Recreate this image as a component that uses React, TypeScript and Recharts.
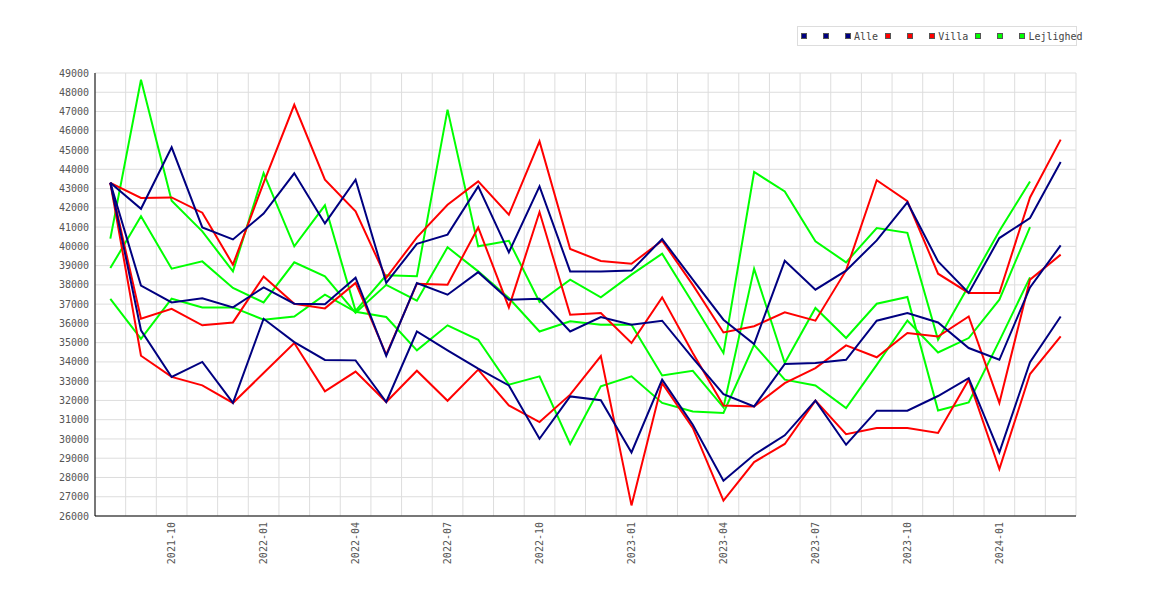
import { LineChart, Line, XAxis, YAxis, CartesianGrid, Legend } from "recharts";

const NAVY = "#000080";
const RED = "#ff0000";
const GREEN = "#00ff00";
const FONT = "'DejaVu Sans Mono', monospace";
const TEXT = "#555";
const GRID = "#dddddd";

// ── data (kr/m²) ─────────────────────────────────────────────────
const MONTHS = [
  "2021-08", "2021-09", "2021-10", "2021-11", "2021-12", "2022-01", "2022-02", "2022-03",
  "2022-04", "2022-05", "2022-06", "2022-07", "2022-08", "2022-09", "2022-10", "2022-11",
  "2022-12", "2023-01", "2023-02", "2023-03", "2023-04", "2023-05", "2023-06", "2023-07",
  "2023-08", "2023-09", "2023-10", "2023-11", "2023-12", "2024-01", "2024-02", "2024-03",
];
const MONTH_TICKS = [2, 5, 8, 11, 14, 17, 20, 23, 26, 29];
const Y_TICKS = [
  26000, 27000, 28000, 29000, 30000, 31000, 32000, 33000, 34000, 35000, 36000, 37000,
  38000, 39000, 40000, 41000, 42000, 43000, 44000, 45000, 46000, 47000, 48000, 49000,
];

const ALLE_HI = [
  43300, 41950, 45140, 40980, 40360, 41700, 43790, 41190, 43460, 38100, 40130, 40610,
  43110, 39690, 43110, 38700, 38700, 38740, 40380, 38270, 36190, 34930, 39250, 37750,
  38740, 40310, 42280, 39220, 37580, 40430, 41470, 44380,
];
const ALLE_MID = [
  43300, 37960, 37090, 37300, 36830, 37870, 37020, 36990, 38370, 34320, 38100, 37490,
  38660, 37230, 37280, 35580, 36330, 35930, 36140, 34200, 32330, 31690, 33890, 33940,
  34110, 36140, 36540, 36050, 34720, 34110, 37870, 40050,
];
const ALLE_LO = [
  43300, 35640, 33220, 34000, 31870, 36240, 35030, 34100, 34080, 31920, 35580, 34600,
  33650, 32780, 30010, 32210, 32010, 29300, 33080, 30740, 27830, 29180, 30190, 31990,
  29700, 31470, 31470, 32230, 33160, 29300, 33980, 36360,
];

const VILLA_HI = [
  43300, 42510, 42540, 41750, 39050, 43300, 47350, 43460, 41820, 38360, 40470, 42160,
  43370, 41640, 45450, 39860, 39240, 39100, 40290, 38000, 35530, 35850, 36580, 36140,
  38750, 43430, 42340, 38580, 37580, 37580, 42540, 45540,
];
const VILLA_MID = [
  43300, 36240, 36760, 35900, 36050, 38440, 37020, 36780, 38100, 34380, 38060, 38010,
  40980, 36830, 41780, 36450, 36540, 34980, 37350, 34460, 31740, 31690, 32900, 33680,
  34860, 34240, 35500, 35320, 36360, 31870, 38270, 39570,
];
const VILLA_LO = [
  43300, 34320, 33220, 32780, 31870, 33420, 34980, 32470, 33500, 31920, 33540, 31980,
  33600, 31740, 30880, 32300, 34300, 26550, 32900, 30570, 26800, 28800, 29740, 31990,
  30250, 30570, 30570, 30310, 33080, 28440, 33370, 35320,
];

// Lejlighed has no value for the last month
const LEJ_HI = [
  40400, 48650, 42370, 40780, 38700, 43800, 40000, 42130, 36650, 38500, 38450, 47100,
  40000, 40290, 37110, 38270, 37350, 38530, 39620, 37060, 34460, 43860, 42850, 40260,
  39170, 40950, 40700, 35150, 37960, 40800, 43370,
];
const LEJ_MID = [
  38870, 41560, 38840, 39220, 37840, 37090, 39170, 38440, 36550, 38000, 37180, 39950,
  38700, 37320, 35580, 36110, 35930, 35930, 33300, 33540, 31640, 38830, 33940, 36800,
  35240, 37020, 37370, 31480, 31900, 35090, 38390,
];
const LEJ_LO = [
  37270, 35200, 37280, 36830, 36830, 36190, 36360, 37490, 36600, 36330, 34600, 35900,
  35150, 32820, 33250, 29740, 32730, 33250, 31870, 31430, 31350, 34890, 33080, 32780,
  31600, 33850, 36150, 34490, 35240, 37230, 41000,
];

const data = MONTHS.map((month, i) => ({
  i,
  month,
  alleHi: ALLE_HI[i],
  alleMid: ALLE_MID[i],
  alleLo: ALLE_LO[i],
  villaHi: VILLA_HI[i],
  villaMid: VILLA_MID[i],
  villaLo: VILLA_LO[i],
  lejHi: LEJ_HI[i],
  lejMid: LEJ_MID[i],
  lejLo: LEJ_LO[i],
}));

// grid lines sit between the months, not on them
const GRID_TICKS = [...MONTHS.map((_, i) => i - 0.5), MONTHS.length - 0.5];
const X_DOMAIN = [-0.5, MONTHS.length - 0.5];

const LEGEND_ITEMS = [
  { color: NAVY, label: " " },
  { color: NAVY, label: " " },
  { color: NAVY, label: "Alle" },
  { color: RED, label: " " },
  { color: RED, label: " " },
  { color: RED, label: "Villa" },
  { color: GREEN, label: " " },
  { color: GREEN, label: " " },
  { color: GREEN, label: "Lejlighed" },
];

// drawn green first so navy ends up on top
const SERIES = [
  { key: "lejHi", color: GREEN },
  { key: "lejMid", color: GREEN },
  { key: "lejLo", color: GREEN },
  { key: "villaHi", color: RED },
  { key: "villaMid", color: RED },
  { key: "villaLo", color: RED },
  { key: "alleHi", color: NAVY },
  { key: "alleMid", color: NAVY },
  { key: "alleLo", color: NAVY },
];

function MonthTick({ x, y, payload }: any) {
  return (
    <text
      x={x}
      y={y}
      transform={`rotate(-90 ${x} ${y})`}
      textAnchor="end"
      dominantBaseline="central"
      fontSize={10}
      fontFamily={FONT}
      fill={TEXT}
    >
      {MONTHS[payload.value]}
    </text>
  );
}

function LegendBox() {
  return (
    <div
      style={{
        boxSizing: "border-box",
        width: 280,
        height: 20,
        border: `1px solid ${GRID}`,
        background: "#fff",
        display: "flex",
        alignItems: "center",
        paddingLeft: 3,
        fontFamily: FONT,
        fontSize: 10,
        color: "#444",
        whiteSpace: "pre",
      }}
    >
      {LEGEND_ITEMS.map((it, k) => (
        <span key={k} style={{ display: "flex", alignItems: "center", marginRight: 7 }}>
          <span
            style={{
              boxSizing: "border-box",
              width: 6,
              height: 6,
              background: it.color,
              border: "1px solid #555",
              marginRight: 3,
            }}
          />
          <span>{it.label}</span>
        </span>
      ))}
    </div>
  );
}

export default function App() {
  return (
    <LineChart
      width={1154}
      height={584}
      data={data}
      margin={{ top: 65, right: 86, bottom: 16, left: 27 }}
    >
      <CartesianGrid stroke={GRID} strokeWidth={1} verticalValues={GRID_TICKS} />
      <XAxis
        type="number"
        dataKey="i"
        domain={X_DOMAIN}
        ticks={MONTH_TICKS}
        interval={0}
        tick={<MonthTick />}
        tickLine={false}
        tickSize={4}
        tickMargin={2}
        axisLine={{ stroke: "#000" }}
        height={60}
      />
      <YAxis
        domain={[26000, 49000]}
        ticks={Y_TICKS}
        interval={0}
        allowDataOverflow
        width={60}
        tickLine={false}
        tickSize={4}
        tickMargin={2}
        axisLine={{ stroke: "#000" }}
        tick={{ fontSize: 10, fill: TEXT, fontFamily: FONT }}
      />
      {/* vertical + center + middle keeps the legend out of the plot offset */}
      <Legend
        layout="vertical"
        verticalAlign="middle"
        align="center"
        wrapperStyle={{ top: 18, left: 789, width: 280, height: 20 }}
        content={<LegendBox />}
      />
      {SERIES.map((s) => (
        <Line
          key={s.key}
          isAnimationActive={false}
          type="linear"
          dataKey={s.key}
          stroke={s.color}
          strokeWidth={2}
          dot={false}
          activeDot={false}
        />
      ))}
    </LineChart>
  );
}
